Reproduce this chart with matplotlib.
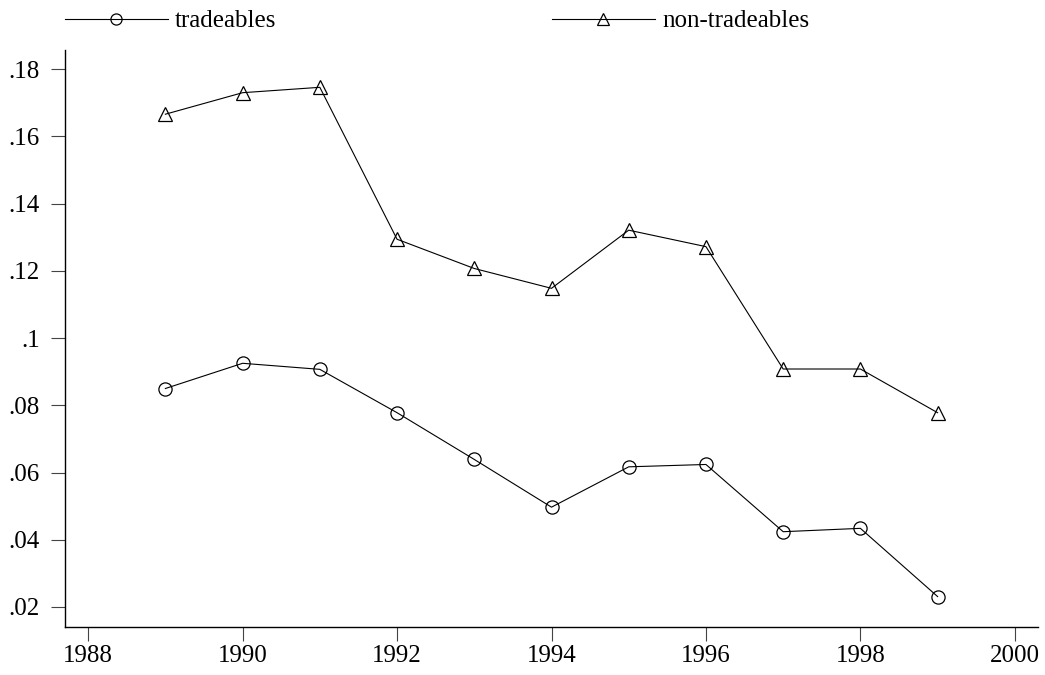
import matplotlib
matplotlib.use('Agg')
import matplotlib.pyplot as plt
from matplotlib.lines import Line2D

# values
years = [1989, 1990, 1991, 1992, 1993, 1994, 1995, 1996, 1997, 1998, 1999]
tradeables = [.0850, .0925, .0907, .0778, .0639, .0497, .0617, .0624, .0424, .0434, .0231]
non_tradeables = [.1666, .1730, .1746, .1294, .1207, .1148, .1321, .1272, .0908, .0908, .0778]

xticks = [1988, 1990, 1992, 1994, 1996, 1998, 2000]
yticks = [.02, .04, .06, .08, .10, .12, .14, .16, .18]
ytick_labels = ['.02', '.04', '.06', '.08', '.1', '.12', '.14', '.16', '.18']

plt.rcParams['font.family'] = ['Liberation Serif', 'DejaVu Serif']
plt.rcParams['font.size'] = 18

fig = plt.figure(figsize=(10.45, 6.75), dpi=100)
ax = fig.add_axes([65 / 1045, 1 - 627 / 675, (1038 - 65) / 1045, (627 - 50) / 675])

ax.plot(years, tradeables, color='black', lw=0.8, marker='o', ms=9.5,
        mfc='none', mec='black', mew=0.9)
ax.plot(years, non_tradeables, color='black', lw=0.8, marker='^', ms=9.5,
        mfc='none', mec='black', mew=0.9)

ax.set_xlim(1987.70, 2000.30)
ax.set_ylim(0.01405, 0.1857)
ax.set_xticks(xticks)
ax.set_yticks(yticks)
ax.set_yticklabels(ytick_labels)

for side in ['top', 'right']:
    ax.spines[side].set_visible(False)
for side in ['left', 'bottom']:
    ax.spines[side].set_linewidth(1.0)
ax.tick_params(axis='both', length=10, width=0.8, color='#444444')
ax.tick_params(axis='y', pad=8)
ax.tick_params(axis='x', pad=3)

# legend handles with slightly smaller markers, as in the original
h1 = Line2D([], [], color='black', lw=0.8, marker='o', ms=8, mfc='none', mec='black', mew=0.9)
h2 = Line2D([], [], color='black', lw=0.8, marker='^', ms=8, mfc='none', mec='black', mew=0.9)
leg_kw = dict(loc='center left', frameon=False, borderpad=0, borderaxespad=0,
              handlelength=4.1, handletextpad=0.3, numpoints=1, fontsize=18)
fig.legend([h1], ['tradeables'], bbox_to_anchor=(65 / 1045, 1 - 21 / 675), **leg_kw)
fig.legend([h2], ['non-tradeables'], bbox_to_anchor=(552 / 1045, 1 - 21 / 675), **leg_kw)

fig.savefig('out.png', dpi=100)
